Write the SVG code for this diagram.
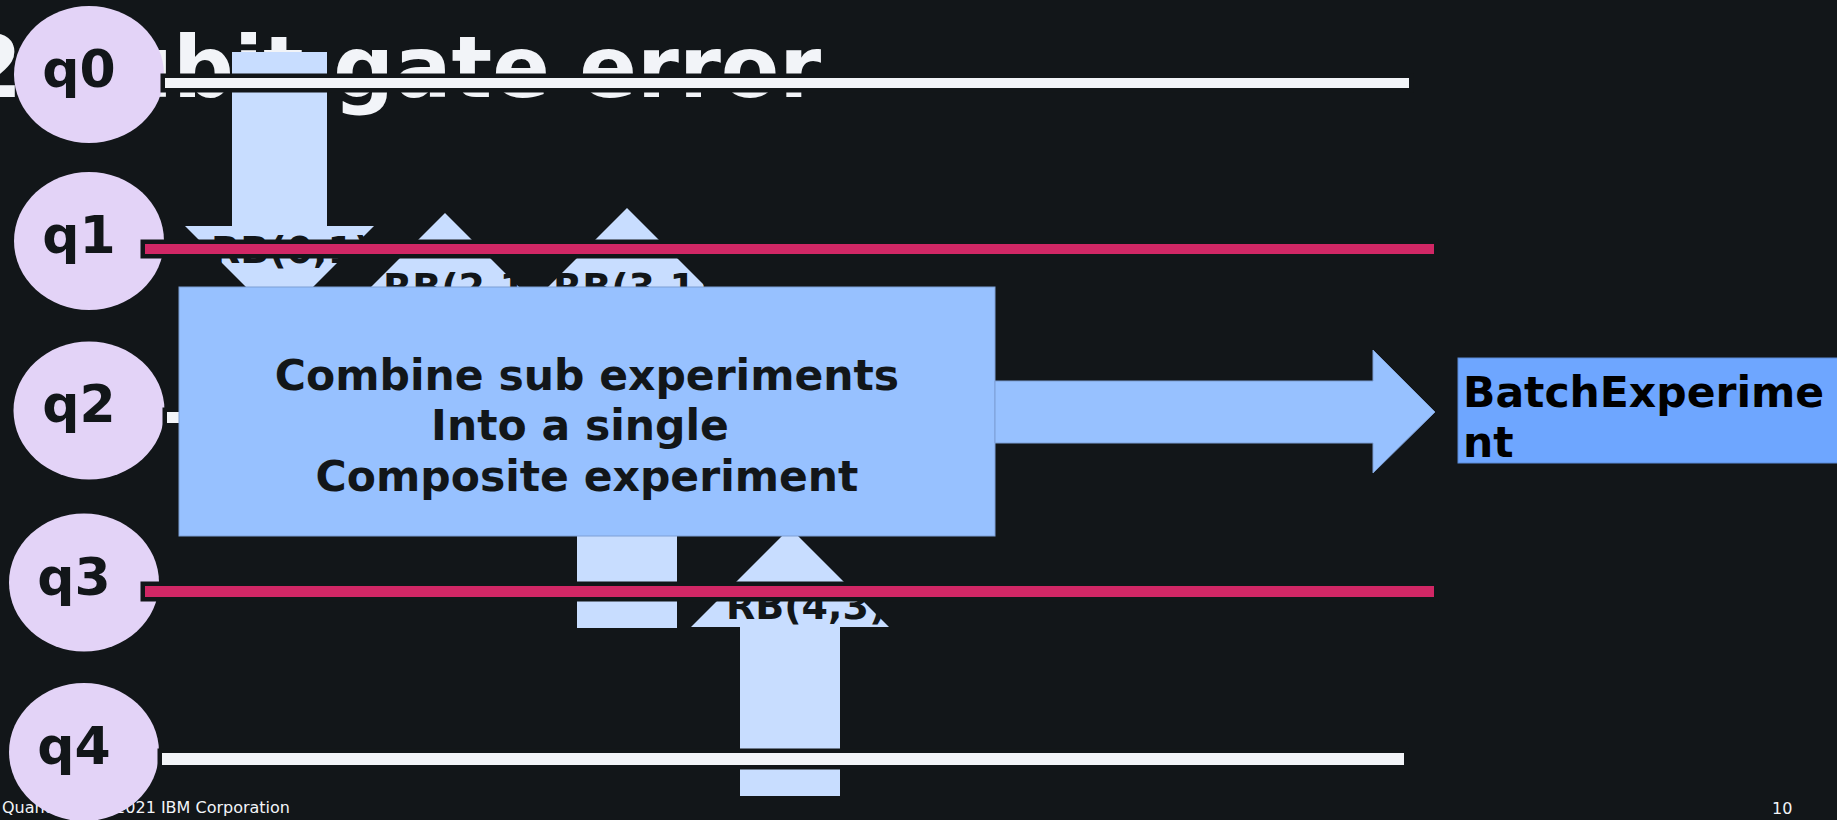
<svg xmlns="http://www.w3.org/2000/svg" width="1837" height="820" viewBox="0 0 1837 820">
<style>
.b{font-family:"DejaVu Sans","Liberation Sans",sans-serif;font-weight:bold}
.title{font-size:85px;fill:#f2f4f8}
.ql{font-size:52px;fill:#121619;text-anchor:middle}
.q{fill:#e3d3f7}
.arr{fill:#c8ddff}
.rb{font-size:38px;fill:#121619}
.w{fill:#f2f4f8;stroke:#121619;stroke-width:9;paint-order:stroke}
.r{fill:#d12765;stroke:#121619;stroke-width:9;paint-order:stroke}
.box{fill:#97c1ff;stroke:#7d9fd6;stroke-width:1}
.bt{font-size:42.5px;fill:#121619;text-anchor:middle}
.foot{font-family:"DejaVu Sans",sans-serif;font-size:16px;fill:#f2f4f8}
</style>
<rect width="1837" height="820" fill="#121619"/>
<text class="b title" x="-37" y="97">2 qubit gate error</text>
<text class="foot" x="2" y="813">Quantum<tspan x="94">© 2021 IBM Corporation</tspan></text>
<text class="foot" x="1772" y="814">10</text>
<g id="rb01">
<polygon class="arr" points="232,52 327,52 327,226 374,226 279.5,320.5 185,226 232,226"/>
<text class="b rb" x="211" y="263">RB(0,1)</text>
</g>
<g id="rb21">
<polygon class="arr" points="445,213 545,313 495,313 495,500 395,500 395,313 345,313"/>
<text class="b rb" x="383" y="300">RB(2,1)</text>
</g>
<g id="rb31">
<polygon class="arr" points="627,208 727,308 677,308 677,628 577,628 577,308 527,308"/>
<text class="b rb" x="553" y="300">RB(3,1)</text>
</g>
<g id="rb43">
<polygon class="arr" points="790,528 889,627 840,627 840,796 740,796 740,627 691,627"/>
<text class="b rb" x="726" y="619">RB(4,3)</text>
</g>
<g id="q0"><ellipse class="q" cx="89" cy="74.5" rx="75" ry="68.5"/><text class="b ql" x="79" y="87">q0</text></g>
<g id="q1"><ellipse class="q" cx="89" cy="241" rx="75" ry="69"/><text class="b ql" x="79" y="253">q1</text></g>
<g id="q2"><ellipse class="q" cx="89" cy="410.5" rx="75.5" ry="69"/><text class="b ql" x="79" y="422">q2</text></g>
<g id="q3"><ellipse class="q" cx="84" cy="582.5" rx="75" ry="69"/><text class="b ql" x="74" y="595">q3</text></g>
<g id="q4"><ellipse class="q" cx="84" cy="752" rx="75" ry="69"/><text class="b ql" x="74" y="764">q4</text></g>
<g id="connectors">
<rect class="w" x="165" y="78" width="1244" height="10"/>
<rect class="r" x="145" y="244" width="1289" height="10"/>
<rect class="w" x="167" y="412" width="1242" height="11"/>
<rect class="r" x="145" y="586" width="1289" height="11"/>
<rect class="w" x="162" y="753" width="1242" height="12"/>
</g>
<g id="combine">
<rect class="box" x="179" y="287" width="816" height="249"/>
<text class="b bt" x="587" y="390">Combine sub experiments</text>
<text class="b bt" x="580" y="440">Into a single</text>
<text class="b bt" x="587" y="491">Composite experiment</text>
</g>
<g id="flow">
<polygon class="box" points="995,381 1373,381 1373,350 1435,412 1373,473 1373,443 995,443"/>
</g>
<g id="batch">
<rect x="1458" y="358" width="400" height="105" fill="#6ea6ff" stroke="#5a8ad6" stroke-width="1"/>
<text class="b" x="1463" y="407" font-size="42.5" fill="#000">BatchExperime</text>
<text class="b" x="1463" y="457" font-size="42.5" fill="#000">nt</text>
</g>
</svg>
